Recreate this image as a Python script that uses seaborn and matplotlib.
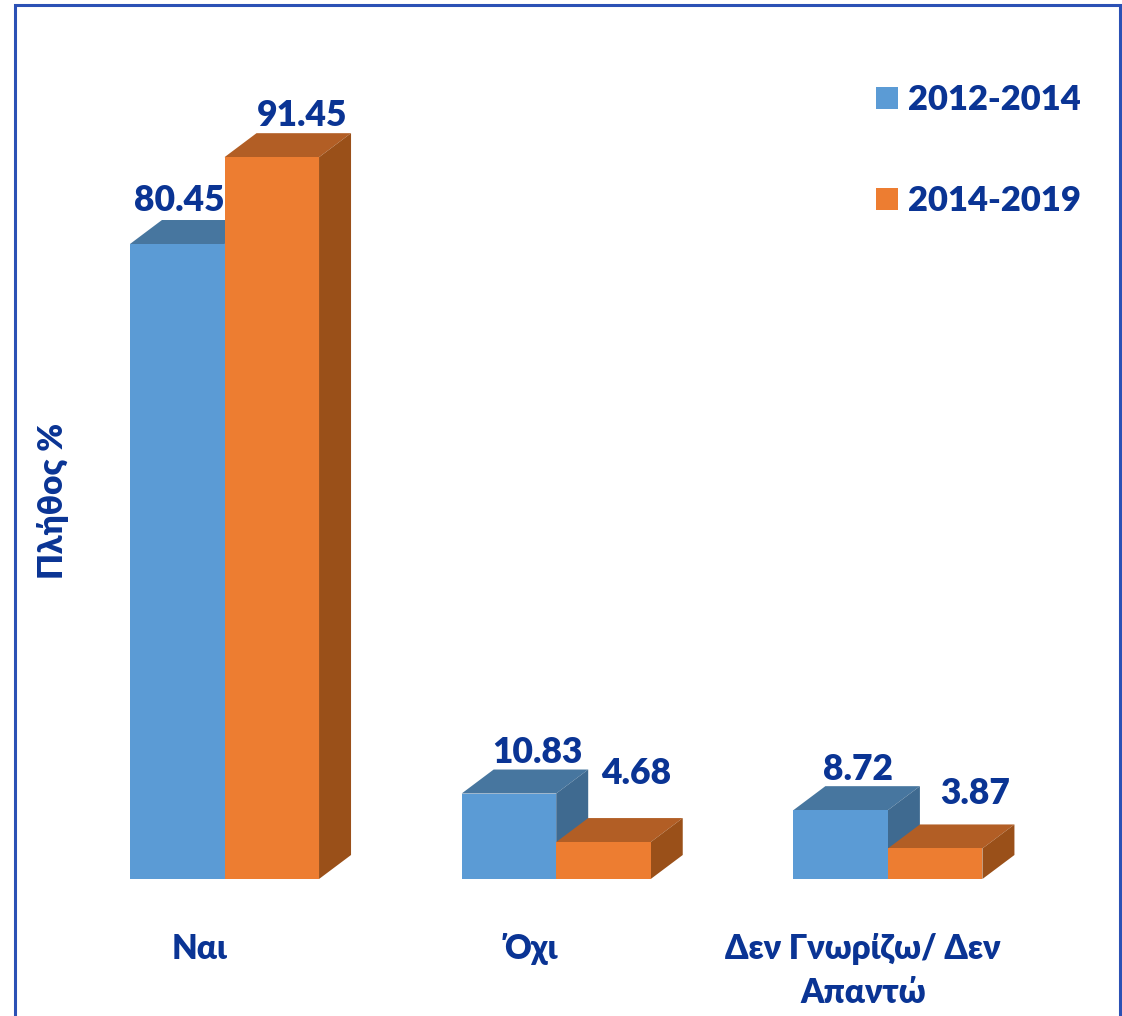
import matplotlib
matplotlib.use("Agg")
import matplotlib.pyplot as plt
import pandas as pd
import seaborn as sns
from matplotlib.patches import Polygon, Rectangle
from matplotlib.transforms import ScaledTranslation

categories = ["Ναι", "Όχι", "Δεν Γνωρίζω/ Δεν\nΑπαντώ"]
periods = ["2012-2014", "2014-2019"]
values_2012_2014 = [80.45, 10.83, 8.72]
values_2014_2019 = [91.45, 4.68, 3.87]

W, H = 1122, 1016
TEXT = "#0A3494"
WEIGHT = 800
FRONT = ["#5B9BD5", "#ED7D31"]
TOP = ["#47769F", "#B25E25"]
SIDE = ["#3F6A90", "#9A5019"]
DX, DY = 32, 24  # depth of the 3D faces, px
LABEL_OFFSETS = [[(2.5, 44), (28.5, 41), (17, 41)],
                 [(30, 42), (32.5, 69), (39.5, 55)]]  # px from bar top centre

sns.set_theme(style="white")
plt.rcParams["font.family"] = ["Lato", "DejaVu Sans"]
plt.rcParams["font.weight"] = WEIGHT

df = pd.DataFrame({
    "cat": categories * 2,
    "period": [periods[0]] * 3 + [periods[1]] * 3,
    "value": values_2012_2014 + values_2014_2019,
})

fig = plt.figure(figsize=(W / 100, H / 100), dpi=100, facecolor="white")
L, R, T, B = 15, 1120, 5, 879
ax = fig.add_axes([L / W, 1 - B / H, (R - L) / W, (B - T) / H])
ax.patch.set_alpha(0)

sns.barplot(data=df, x="cat", y="value", hue="period", order=categories,
            hue_order=periods, palette=FRONT, width=0.57, gap=0, dodge=True,
            saturation=1, linewidth=0, ax=ax)

unit_x = 331.7
ax.set_xlim((L - 224.5) / unit_x, (R - 224.5) / unit_x)
unit_y = 7.893
ax.set_ylim(0, (B - T) / unit_y)
dx, dy = DX / unit_x, DY / unit_y

for s, container in enumerate(ax.containers):
    for i, bar in enumerate(container):
        x0, x1 = bar.get_x(), bar.get_x() + bar.get_width()
        h = bar.get_height()
        bar.set_zorder(3.1 + s)
        ax.add_patch(Polygon([(x0, h), (x1, h), (x1 + dx, h + dy), (x0 + dx, h + dy)],
                             facecolor=TOP[s], edgecolor="none", zorder=3 + s))
        ax.add_patch(Polygon([(x1, 0), (x1 + dx, dy), (x1 + dx, h + dy), (x1, h)],
                             facecolor=SIDE[s], edgecolor="none", zorder=3 + s))
        ox, oy = LABEL_OFFSETS[s][i]
        ax.annotate(f"{h:.2f}", xy=((x0 + x1) / 2, h), xytext=(ox, oy),
                    textcoords="offset pixels", ha="center", va="center",
                    fontsize=25.5, fontweight=WEIGHT, color=TEXT, zorder=8)

sns.despine(ax=ax, left=True, bottom=True)
ax.set_yticks([])
ax.set_xlabel("")
ax.set_xticks(range(3), categories)
ax.tick_params(axis="x", length=0, pad=39)
shift = ScaledTranslation(-25 / 100, 0, fig.dpi_scale_trans)
for t in ax.get_xticklabels():
    t.set_transform(t.get_transform() + shift)
    t.set_fontsize(23.8)
    t.set_fontweight(WEIGHT)
    t.set_color(TEXT)
    t.set_linespacing(1.45)

ax.set_ylabel("Πλήθος %", fontsize=24, fontweight=WEIGHT, color=TEXT, va="center")
ax.yaxis.set_label_coords((53 - L) / (R - L), (B - 501) / (B - T))

handles, labels = ax.get_legend_handles_labels()
leg = ax.legend(handles, labels, loc="upper left",
                bbox_to_anchor=((876 - L) / (R - L), 1 - (84 - T) / (B - T)),
                frameon=False, prop={"size": 24.8, "weight": WEIGHT, "family": ["Lato", "DejaVu Sans"]},
                handlelength=0.63, handleheight=0.63, handletextpad=0.31,
                labelspacing=2.0, borderpad=0, borderaxespad=0)
for t in leg.get_texts():
    t.set_color(TEXT)

fig.add_artist(Rectangle((L / W, -0.01), (R - L) / W, 1 - T / H + 0.01,
                         transform=fig.transFigure, fill=False,
                         edgecolor="#2B51B5", linewidth=2.2))

fig.savefig("out.png", dpi=100)
